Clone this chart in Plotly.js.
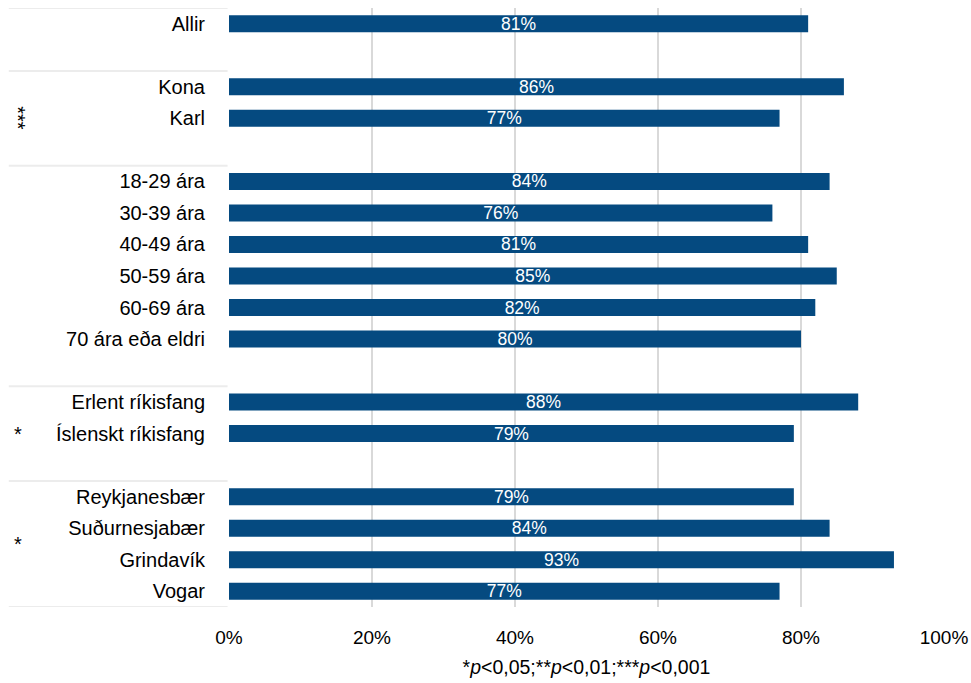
<!DOCTYPE html>
<html>
<head>
<meta charset="utf-8">
<script src="https://cdn.plot.ly/plotly-3.0.1.min.js"></script>
<style>html,body{margin:0;padding:0;background:#fff;}#chart{width:971px;height:683px;}</style>
</head>
<body>
<div id="chart"></div>
<script>
// Data
const categories = ["Allir", "Kona", "Karl", "18-29 ára", "30-39 ára", "40-49 ára", "50-59 ára", "60-69 ára", "70 ára eða eldri", "Erlent ríkisfang", "Íslenskt ríkisfang", "Reykjanesbær", "Suðurnesjabær", "Grindavík", "Vogar"];
const values = [81, 86, 77, 84, 76, 81, 85, 82, 80, 88, 79, 79, 84, 93, 77];
const groups = [0, 1, 1, 2, 2, 2, 2, 2, 2, 3, 3, 4, 4, 4, 4];
const groupMarks = ["", "***", "", "*", "*"];
const xTickVals = [0, 20, 40, 60, 80, 100];
const xTickLabels = ["0%", "20%", "40%", "60%", "80%", "100%"];
const footnote = "*<i>p</i><0,05;**<i>p</i><0,01;***<i>p</i><0,001";

// Positions: one empty slot after each group except the last
const pos = [];
let slot = 0;
for (let i = 0; i < categories.length; i++) {
  if (i > 0 && groups[i] !== groups[i - 1]) slot += 1;
  pos.push(slot);
  slot += 1;
}
const lastSlot = pos[pos.length - 1];
const nGroups = groupMarks.length;
const gStart = [], gEnd = [];
for (let g = 0; g < nGroups; g++) {
  const idx = pos.filter((p, i) => groups[i] === g);
  gStart.push(Math.min(...idx) - 0.5);
  gEnd.push(g === nGroups - 1 ? Math.max(...idx) + 0.5 : Math.max(...idx) + 1.5);
}

const FONT = "Liberation Sans, Arial, sans-serif";
const trace = {
  type: "bar",
  orientation: "h",
  x: values,
  y: pos,
  width: 0.54,
  marker: { color: "#054a80" },
  text: values.map(v => v + "%"),
  textposition: "inside",
  insidetextanchor: "middle",
  constraintext: "none",
  textfont: { family: FONT, size: 17.5, color: "#ffffff" },
  hoverinfo: "skip"
};

const shapes = [];
const bounds = [gStart[0]].concat(gEnd);
bounds.forEach(b => {
  shapes.push({ type: "line", xref: "paper", yref: "y", x0: -0.308, x1: -0.002, y0: b, y1: b,
    line: { color: "#ececec", width: 2 } });
});

const annotations = [];
for (let g = 0; g < nGroups; g++) {
  if (!groupMarks[g]) continue;
  annotations.push({
    xref: "paper", yref: "y", x: -0.295, y: (gStart[g] + gEnd[g]) / 2,
    text: groupMarks[g], showarrow: false, xanchor: "center", yanchor: "middle",
    textangle: groupMarks[g].length > 1 ? 90 : 0,
    font: { family: FONT, size: 20, color: "#000" }
  });
}

const layout = {
  width: 971, height: 683,
  margin: { l: 229, r: 27, t: 8, b: 76 },
  paper_bgcolor: "#fff", plot_bgcolor: "#fff",
  showlegend: false,
  font: { family: FONT, color: "#000" },
  xaxis: {
    range: [0, 100],
    tickmode: "array",
    tickvals: xTickVals,
    ticktext: xTickLabels,
    showgrid: true, gridcolor: "#d9d9d9", gridwidth: 2,
    zeroline: false, showline: false,
    ticks: "outside", ticklen: 13, tickcolor: "rgba(0,0,0,0)",
    tickfont: { family: FONT, size: 19, color: "#000" },
    title: { text: footnote, font: { family: FONT, size: 19.5, color: "#000" }, standoff: 13 }
  },
  yaxis: {
    range: [lastSlot + 0.5, -0.5],
    tickmode: "array",
    tickvals: pos,
    ticktext: categories,
    showgrid: false, zeroline: false, showline: false,
    ticks: "outside", ticklen: 19, tickcolor: "rgba(0,0,0,0)",
    tickfont: { family: FONT, size: 20, color: "#000" }
  },
  shapes: shapes,
  annotations: annotations
};

Plotly.newPlot("chart", [trace], layout, { displayModeBar: false, staticPlot: true });
</script>
</body>
</html>
